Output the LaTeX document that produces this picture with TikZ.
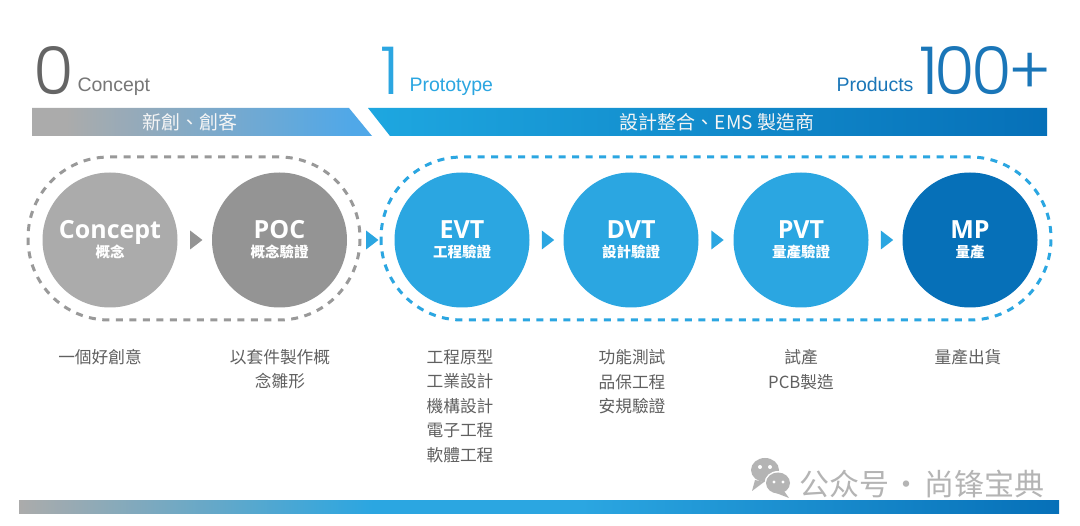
\documentclass[tikz,border=0pt]{standalone}
\usepackage{fontspec}
\setmainfont{Liberation Sans}
\newfontfamily\cjk{Noto Sans CJK TC}
\newfontfamily\cjksc{Noto Sans CJK SC}
\newfontfamily\titlef{Open Sans}
\newfontfamily\thinf{Poppins Light}
\usetikzlibrary{shapes.geometric,calc}
\definecolor{cgrayA}{HTML}{ABABAB}
\definecolor{cgrayB}{HTML}{949494}
\definecolor{cblue}{HTML}{2BA6E1}
\definecolor{cdeep}{HTML}{0670B8}
\definecolor{cdash}{HTML}{999999}
\definecolor{ctext}{HTML}{606060}
\definecolor{cwm}{HTML}{B4B4B4}
\definecolor{cbarmid}{HTML}{50A8E8}
\definecolor{cbarA}{HTML}{1EA7E0}
\definecolor{cgreyT}{HTML}{777777}
\definecolor{cprod}{HTML}{1A76B8}
\pgfdeclarehorizontalshading{shleft}{100bp}{color(0bp)=(cgrayA); color(30bp)=(cgrayA); color(72bp)=(cbarmid); color(100bp)=(cbarmid)}
\pgfdeclarehorizontalshading{shright}{100bp}{color(0bp)=(cbarA); color(25bp)=(cbarA); color(75bp)=(cdeep); color(100bp)=(cdeep)}
\pgfdeclarehorizontalshading{shbottom}{100bp}{color(0bp)=(cgrayA); color(25bp)=(cgrayA); color(42bp)=(cblue); color(52bp)=(cblue); color(75bp)=(cdeep); color(100bp)=(cdeep)}
\tikzset{
  stage/.style={circle,minimum size=135pt,inner sep=0pt},
  ttl/.style={text=white,inner sep=0pt,anchor=base,font=\titlef\bfseries\fontsize{25}{27}\selectfont},
  sub/.style={text=white,inner sep=0pt,anchor=center,font=\cjk\bfseries\fontsize{14.5}{16}\selectfont},
  group/.style={rounded corners=81pt,line width=3pt,dash pattern=on 7pt off 6.5pt},
  tri/.style={isosceles triangle,isosceles triangle apex angle=75,minimum height=10pt,minimum width=19pt,inner sep=0pt,draw=none},
  desc/.style={text=ctext,font=\cjk\fontsize{16.7}{24.4}\selectfont,align=center,anchor=north},
  bartext/.style={font=\cjk\fontsize{19}{22}\selectfont,text=white!92!gray},
  small/.style={font=\fontsize{19.5}{22}\selectfont,anchor=base west},
  big/.style={font=\thinf\fontsize{66}{70}\selectfont,anchor=base west}
}
\begin{document}
\begin{tikzpicture}[x=1pt,y=-1pt]
\useasboundingbox (0,0) rectangle (1080,526);
\fill[white] (0,0) rectangle (1080,526);
% headline
\node[big,text=cgreyT!85!black] (n0) at (30,95) {0};
\node[small,text=cgreyT] (tconcept) at (74,92) {Concept};
\node[big,text=cblue] (n1) at (377,95) {1};
\node[small,text=cblue] (tproto) at (406,92) {Prototype};
\node[small,text=cprod] (tprod) at (833,92) {Products};
\node[big,text=cprod] (n100) at (916,95) {1\kern-4pt 0\kern-4pt 0\kern-4pt +};
% bars
\shade[shading=shleft] (32,108) -- (349,108) -- (372,136) -- (32,136) -- cycle;
\node[bartext] (bl) at (190,122) {新創、創客};
\shade[shading=shright] (368,108) -- (1047,108) -- (1047,136) -- (390,136) -- cycle;
\node[bartext] (br) at (717,122) {設計整合、EMS 製造商};
% dashed groups
\draw[group,draw=cdash] (28,157) rectangle (360,320);
\draw[group,draw=cblue] (381,157) rectangle (1051,320);
% stages
\node[stage,fill=cgrayA] (concept) at (110,240) {};
\node[stage,fill=cgrayB] (poc) at (279.5,240) {};
\node[stage,fill=cblue] (evt) at (462,240) {};
\node[stage,fill=cblue] (dvt) at (631,240) {};
\node[stage,fill=cblue] (pvt) at (801,240) {};
\node[stage,fill=cdeep] (mp) at (970,240) {};
\foreach \n/\t/\s in {concept/Concept/概念,poc/POC/概念驗證,evt/EVT/工程驗證,dvt/DVT/設計驗證,pvt/PVT/量產驗證,mp/MP/量產}{
  \node[ttl] (\n-t) at ($(\n.center)+(0,-1.5)$) {\t};
  \node[sub] (\n-s) at ($(\n.center)+(0,12)$) {\s};
}
% arrows
\node[tri,fill=cgrayB] (a1) at ($(concept.east)!.5!(poc.west)$) {};
\node[tri,fill=cblue] (a2) at ($(poc.east)!.5!(evt.west)$) {};
\node[tri,fill=cblue] (a3) at ($(evt.east)!.5!(dvt.west)$) {};
\node[tri,fill=cblue] (a4) at ($(dvt.east)!.5!(pvt.west)$) {};
\node[tri,fill=cblue] (a5) at ($(pvt.east)!.5!(mp.west)$) {};
% descriptions
\node[desc] (d1) at (100,346) {一個好創意};
\node[desc] (d2) at (280,346) {以套件製作概\\念雛形};
\node[desc] (d3) at (460,346) {工程原型\\工業設計\\機構設計\\電子工程\\軟體工程};
\node[desc] (d4) at (632,346) {功能測試\\品保工程\\安規驗證};
\node[desc] (d5) at (801,346) {試產\\PCB製造};
\node[desc] (d6) at (968,346) {量產出貨};
% bottom bar
\shade[shading=shbottom] (19,501) rectangle (1059,514);
% watermark
\fill[cwm] (765,470) ellipse (14pt and 12pt);
\fill[cwm] (755,480) -- (752,491) -- (764,482) -- cycle;
\fill[white] (778,483) ellipse (13.5pt and 12pt);
\fill[cwm] (778,483) ellipse (12pt and 10.5pt);
\fill[cwm] (784,491) -- (789,498) -- (776,493) -- cycle;
\fill[white] (760,467) circle (2pt) (770,467) circle (2pt) (774,482) circle (1.6pt) (783,482) circle (1.6pt);
\node[font=\cjksc\fontsize{30}{32}\selectfont,text=cwm,anchor=west,inner sep=0pt] (wm) at (799,484) {公众号\kern-4pt{} · \kern-4pt{}尚锋宝典};
\end{tikzpicture}
\end{document}
